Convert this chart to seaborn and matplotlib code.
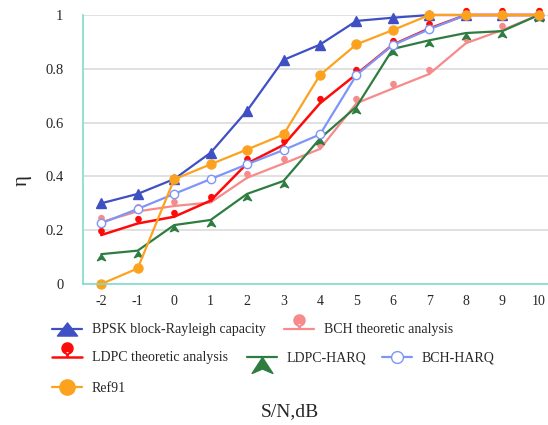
import matplotlib
matplotlib.use("Agg")
import matplotlib.pyplot as plt
from matplotlib.path import Path
from matplotlib.lines import Line2D
from matplotlib.ticker import FixedLocator
import seaborn as sns

# ---- data -----------------------------------------------------------------
snr_db = [-2, -1, 0, 1, 2, 3, 4, 5, 6, 7, 8, 9, 10]
bpsk_capacity = [0.300, 0.335, 0.390, 0.488, 0.644, 0.833, 0.890, 0.978, 0.990, 1.0, 1.0, 1.0, 1.0]
bch_theory = [0.230, 0.270, 0.290, 0.303, 0.395, 0.448, 0.502, 0.672, 0.727, 0.781, 0.895, 0.944, 1.0]
ldpc_theory = [0.182, 0.225, 0.250, 0.310, 0.448, 0.517, 0.672, 0.780, 0.890, 0.950, 1.0, 1.0, 1.0]
ldpc_harq = [0.111, 0.124, 0.219, 0.238, 0.335, 0.383, 0.541, 0.659, 0.874, 0.906, 0.933, 0.940, 1.0]
bch_harq = [0.226, 0.279, 0.335, 0.390, 0.445, 0.498, 0.556, 0.777, 0.889, 0.947, 1.0, 1.0, 1.0]
ref91 = [0.0, 0.058, 0.389, 0.445, 0.500, 0.556, 0.777, 0.891, 0.944, 1.0, 1.0, 1.0, 1.0]

series_names = ["BPSK block-Rayleigh capacity", "BCH theoretic analysis",
                "LDPC theoretic analysis", "LDPC-HARQ", "BCH-HARQ", "Ref91"]
y_ticks = [0, 0.2, 0.4, 0.6, 0.8, 1]
y_tick_labels = ["0", "0.2", "0.4", "0.6", "0.8", "1"]
x_label = "S/N,dB"
y_label = "η"

# ---- custom marker shapes ---------------------------------------------------
def pin_marker():
    """Map-pin: round head on a tapering stem whose tip is the data point."""
    head = Path.circle((0, 0.62), 0.38)
    stem = Path([(-0.14, 0.42), (0.14, 0.42), (0, 0), (-0.14, 0.42)],
                [Path.MOVETO, Path.LINETO, Path.LINETO, Path.CLOSEPOLY])
    return Path.make_compound_path(head, stem)


def arrow_marker():
    """Arrow head hanging below the data point."""
    return Path([(0, 0), (0.65, -1), (0, -0.72), (-0.65, -1), (0, 0)],
                [Path.MOVETO, Path.LINETO, Path.LINETO, Path.LINETO, Path.CLOSEPOLY])


def wide_triangle():
    return Path([(0, 0.65), (1, -0.65), (-1, -0.65), (0, 0.65)],
                [Path.MOVETO, Path.LINETO, Path.LINETO, Path.CLOSEPOLY])


PIN = pin_marker()
ARROW = arrow_marker()
WTRI = wide_triangle()

BLUE = "#3f50c4"
PINK = "#f78a8a"
RED = "#ff0a0a"
GREEN = "#2e7d40"
LBLUE = "#7d96f7"
ORANGE = "#fca21f"
TEAL = "#7fdccd"
TEXT = "#262626"

styles = [
    dict(color=BLUE, marker="^", ms=6.5, mfc=BLUE, lw=1.6, lmarker=WTRI, lms=14.5),
    dict(color=PINK, marker=PIN, ms=10, mfc=PINK, lw=1.6, lmarker=PIN, lms=21),
    dict(color=RED, marker=PIN, ms=10, mfc=RED, lw=1.8, lmarker=PIN, lms=21),
    dict(color=GREEN, marker=ARROW, ms=9, mfc=GREEN, lw=1.6, lmarker=ARROW, lms=23),
    dict(color=LBLUE, marker="o", ms=6, mfc="white", lw=1.6, lmarker="o", lms=8.5),
    dict(color=ORANGE, marker="o", ms=6.5, mfc=ORANGE, lw=1.6, lmarker="o", lms=11),
]
values = [bpsk_capacity, bch_theory, ldpc_theory, ldpc_harq, bch_harq, ref91]

# ---- figure ---------------------------------------------------------------
sns.set_style("white")
plt.rcParams["font.family"] = ["Liberation Serif", "DejaVu Serif"]

W, H = 548, 425
fig = plt.figure(figsize=(W / 100, H / 100), dpi=100)
left, right, top, bottom = 83, 557, 15, 284
ax = fig.add_axes([left / W, 1 - bottom / H, (right - left) / W, (bottom - top) / H])

for vals, st in zip(values, styles):
    sns.lineplot(x=snr_db, y=vals, ax=ax, color=st["color"], lw=st["lw"],
                 marker=st["marker"], markersize=st["ms"],
                 markerfacecolor=st["mfc"], markeredgecolor=st["color"],
                 markeredgewidth=1.0, clip_on=False, legend=False)

ax.set_xlim(-2.5, 10.5)
ax.set_ylim(0, 1)

# category-style x axis: labels at the points, ticks between them
ax.set_xticks(snr_db)
ax.set_xticklabels([str(v) for v in snr_db])
ax.xaxis.set_minor_locator(FixedLocator([v - 0.5 for v in snr_db] + [snr_db[-1] + 0.5]))
ax.tick_params(axis="x", which="major", length=0, pad=8, labelsize=10, labelcolor=TEXT)
ax.tick_params(axis="x", which="minor", length=5, width=1.1, color=TEAL, direction="out")

ax.set_yticks(y_ticks)
ax.set_yticklabels(y_tick_labels)
ax.tick_params(axis="y", length=5, width=1.1, color=TEAL, direction="out",
               pad=9, labelsize=10.5, labelcolor=TEXT)

ax.grid(axis="y", color="#d9d9d9", lw=1.1)
ax.grid(axis="x", visible=False)
ax.set_axisbelow(True)
for side in ("top", "right"):
    ax.spines[side].set_visible(False)
for side in ("left", "bottom"):
    ax.spines[side].set_color(TEAL)
    ax.spines[side].set_linewidth(1.2)

ax_w = right - left
ax_h = bottom - top
ax.set_ylabel(y_label, fontsize=15, color=TEXT)
ax.yaxis.label.set_va("center")
ax.yaxis.set_label_coords((22 - left) / ax_w, (bottom - 181) / ax_h)
ax.set_xlabel(x_label, fontsize=14, color=TEXT)
ax.xaxis.set_label_coords((290 - left) / ax_w, (bottom - 412) / ax_h)
ax.xaxis.label.set_va("center")

# ---- legend: flowed rows under the plot ---------------------------------
legend_spots = [(52, 330), (284, 330), (52, 358), (247, 358), (382, 358), (52, 388)]
for name, st, (px, py) in zip(series_names, styles, legend_spots):
    handle = Line2D([], [], color=st["color"], lw=st["lw"], marker=st["lmarker"],
                    markersize=st["lms"], markerfacecolor=st["mfc"],
                    markeredgecolor=st["color"], markeredgewidth=1.0)
    fig.legend(handles=[handle], labels=[name], loc="center left",
               bbox_to_anchor=(px / W, 1 - py / H), frameon=False,
               borderpad=0, borderaxespad=0, handlelength=2.15,
               handletextpad=0.7, fontsize=10, labelcolor=TEXT, numpoints=1)

fig.savefig("out.png", dpi=100)
